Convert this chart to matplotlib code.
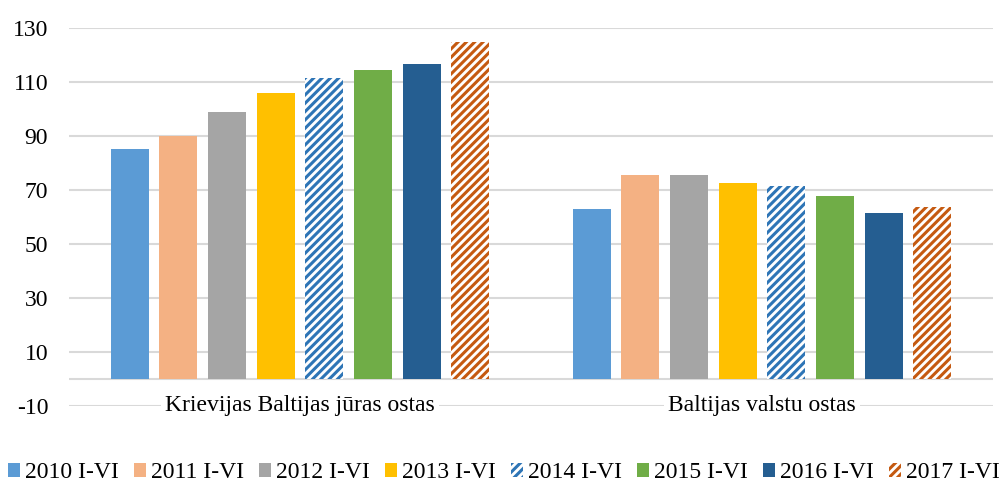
import matplotlib
matplotlib.use("Agg")
import matplotlib.pyplot as plt
import numpy as np
from matplotlib.patches import Patch

plt.rcParams['font.family'] = ['Liberation Serif', 'DejaVu Serif']
plt.rcParams['hatch.linewidth'] = 2.2

categories = ["Krievijas Baltijas jūras ostas", "Baltijas valstu ostas"]
series = ["2010 I-VI", "2011 I-VI", "2012 I-VI", "2013 I-VI",
          "2014 I-VI", "2015 I-VI", "2016 I-VI", "2017 I-VI"]
values = {
    "2010 I-VI": [85.2, 63.0],
    "2011 I-VI": [90.0, 75.6],
    "2012 I-VI": [98.9, 75.7],
    "2013 I-VI": [105.9, 72.7],
    "2014 I-VI": [111.3, 71.5],
    "2015 I-VI": [114.5, 67.6],
    "2016 I-VI": [116.8, 61.5],
    "2017 I-VI": [125.0, 63.6],
}
colors = ["#5B9BD5", "#F4B183", "#A5A5A5", "#FFC000",
          "#2E75B6", "#70AD47", "#255E91", "#C55A11"]
hatched = [False, False, False, False, True, False, False, True]
yticks = list(range(-10, 131, 20))

fig = plt.figure(figsize=(10.02, 4.84), dpi=100)
ax = fig.add_axes([69/1002, 1 - 406/484, 924/1002, 378/484])

x = np.arange(len(categories))
pitch = 0.1054
width = 0.0823
n = len(series)
handles = []
for i, s in enumerate(series):
    pos = x + (i - (n - 1) / 2) * pitch
    if hatched[i]:
        ax.bar(pos, values[s], width, facecolor="white", edgecolor=colors[i],
               hatch="////", linewidth=0, zorder=3)
        handles.append(Patch(facecolor="white", edgecolor=colors[i], hatch="////",
                             linewidth=0, label=s))
    else:
        ax.bar(pos, values[s], width, color=colors[i], linewidth=0, zorder=3)
        handles.append(Patch(facecolor=colors[i], linewidth=0, label=s))

ax.set_xlim(-0.5, 1.5)
ax.set_ylim(-10, 130)
ax.set_yticks(yticks)
ax.set_yticklabels([str(t) for t in yticks], fontsize=17)
ax.tick_params(axis='y', length=0, pad=15)
ax.set_xticks([])
for sp in ax.spines.values():
    sp.set_visible(False)
ax.grid(axis='y', color="#D9D9D9", linewidth=1.5, zorder=0)
ax.axhline(0, color="#D9D9D9", linewidth=1.5, zorder=2)
ax.set_axisbelow(True)

for xi, c in zip(x, categories):
    ax.text(xi, -10, c, ha='center', va='center', fontsize=17, zorder=4,
            bbox=dict(facecolor='white', edgecolor='none', pad=3))

fig.legend(handles=handles, loc='center', bbox_to_anchor=(0.503, 1 - 473/484),
           ncol=8, frameon=False, fontsize=17, handlelength=0.5, handleheight=0.5,
           handletextpad=0.2, columnspacing=0.66, borderaxespad=0, borderpad=0)

fig.savefig("out.png", dpi=100)
